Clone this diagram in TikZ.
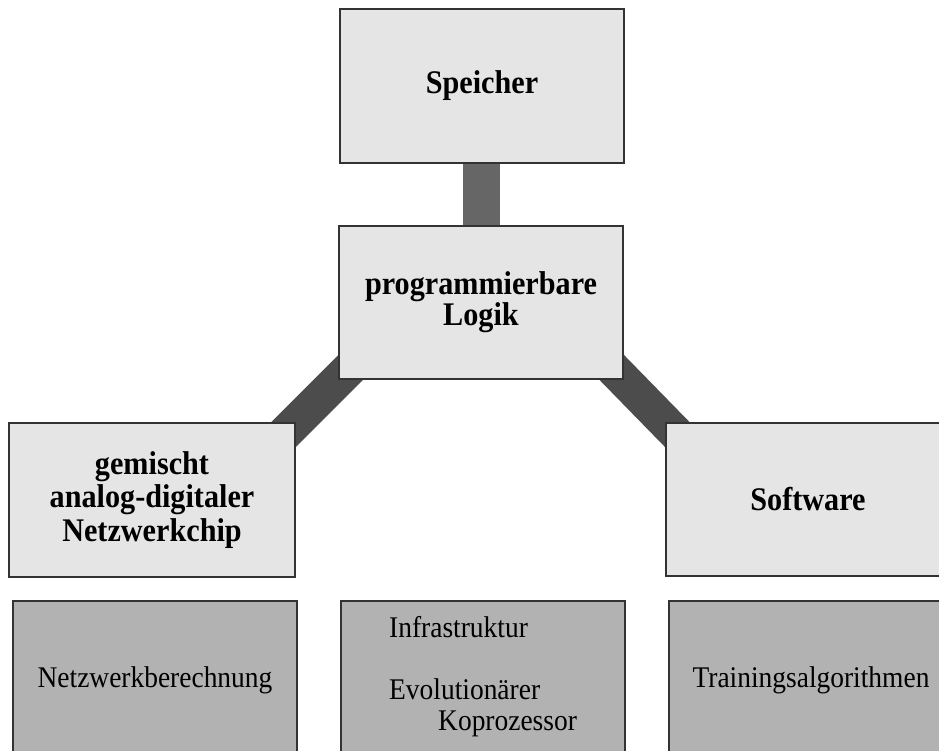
\documentclass[tikz,border=0pt]{standalone}
\usepackage{fontspec}
\setmainfont{Liberation Serif}[FakeStretch=0.915]
\pgfdeclarelayer{bg}
\pgfsetlayers{bg,main}
\begin{document}
\begin{tikzpicture}[x=1pt,y=-1pt,
  topbox/.style={draw=black!80, line width=1.2pt, fill=black!10,
    minimum width=284pt, minimum height=154pt, inner sep=0pt, align=center,
    font=\fontsize{33}{30}\selectfont\bfseries},
  subbox/.style={draw=black!80, line width=1.2pt, fill=black!30,
    minimum width=284pt, minimum height=158pt, inner sep=0pt,
    font=\fontsize{30}{31}\selectfont},
  plain/.style={inner sep=0pt, anchor=base west, font=\fontsize{30}{31}\selectfont},
  bar/.style={draw=black!60, line width=37pt},
  diag/.style={draw=black!70, line width=35pt, shorten <=-30pt, shorten >=-30pt}
]
\useasboundingbox (0,0) rectangle (939,751);
\clip (0,0) rectangle (939,751);

% upper row: the four blocks of the system
\node[topbox] (speicher) at (482,86) {Speicher};
\node[topbox, minimum height=153pt] (logik) at (481,302.5) {programmierbare\\Logik};
\node[topbox, minimum width=286pt, font=\fontsize{33}{33.5}\selectfont\bfseries]
  (chip) at (152,500) {gemischt\\analog-digitaler\\Netzwerkchip};
\node[topbox, minimum height=153pt] (soft) at (808,499.5) {Software};

% lower row: functions of each block
\node[subbox] (netz) at (155,680) {Netzwerkberechnung};
\node[subbox] (mid) at (483,680) {};
\node[subbox] (train) at (811,680) {Trainingsalgorithmen};
\node[plain] (infra) at (389,637) {Infrastruktur};
\node[plain] (evo) at (389,699) {Evolutionärer};
\node[plain] (kopro) at (438,730) {Koprozessor};

% thick links behind the blocks
\begin{pgfonlayer}{bg}
  \draw[bar] (logik.north |- speicher.south) -- (logik.north);
  \draw[diag] (logik.south west) -- (chip.north east);
  \draw[diag] (logik.south east) -- (soft.north west);
\end{pgfonlayer}
\end{tikzpicture}
\end{document}
